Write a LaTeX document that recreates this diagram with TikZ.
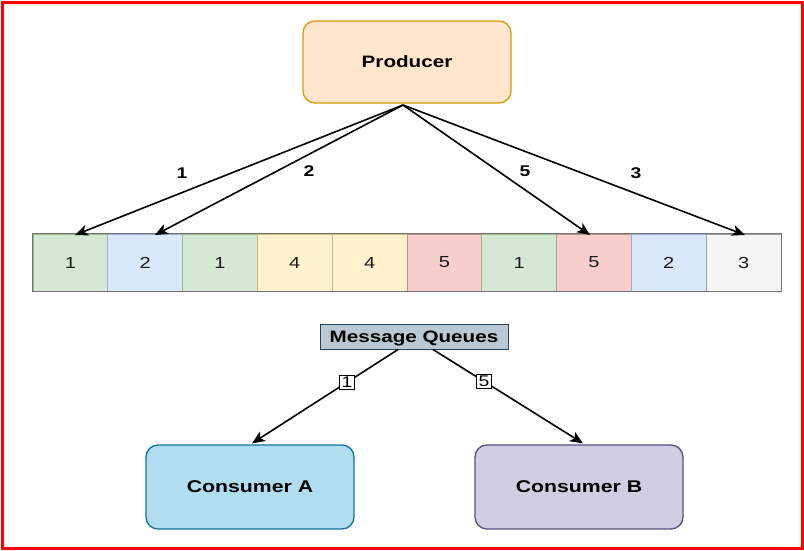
\documentclass[tikz,border=0pt]{standalone}
\usepackage{fontspec}
\setmainfont{Liberation Sans}
\usetikzlibrary{arrows.meta,calc}
\definecolor{prodfill}{HTML}{FFE6CC}
\definecolor{prodline}{HTML}{D79B00}
\definecolor{gfill}{HTML}{D5E8D4}\definecolor{gline}{HTML}{9DB58F}
\definecolor{bfill}{HTML}{DAE8FC}\definecolor{bline}{HTML}{9AAFCB}
\definecolor{yfill}{HTML}{FFF2CC}\definecolor{yline}{HTML}{C9B78A}
\definecolor{rfill}{HTML}{F8CECC}\definecolor{rline}{HTML}{B89492}
\definecolor{sfill}{HTML}{F5F5F5}\definecolor{sline}{HTML}{A0A0A0}
\definecolor{mqfill}{HTML}{BAC8D3}\definecolor{mqline}{HTML}{23445D}
\definecolor{cafill}{HTML}{B1DDF0}\definecolor{caline}{HTML}{10739E}
\definecolor{cbfill}{HTML}{D0CEE2}\definecolor{cbline}{HTML}{56517E}
\newcommand{\stretchtxt}[1]{\scalebox{1.25}[1]{#1}}
\begin{document}
\begin{tikzpicture}[x=1pt,y=-1pt,
  roundbox/.style={rounded corners=12pt, line width=1.3pt, inner sep=0pt},
  cell/.style={line width=0.8pt, minimum width=74.8pt, minimum height=57pt, inner sep=0pt, text=black!90},
  arr/.style={line width=1.6pt, -{Stealth[length=13pt,width=11pt,inset=3.5pt]}},
  elabel/.style={font=\bfseries\fontsize{15.5}{18}\selectfont},
  boxlabel/.style={draw, fill=white, line width=1pt, inner xsep=1.8pt, inner ysep=2pt, text depth=0pt, font=\fontsize{15.5}{18}\selectfont}
]
\useasboundingbox (0,0) rectangle (804,550);
\draw[red, line width=3pt] (2,2) rectangle (802,548);

\node[roundbox, fill=prodfill, draw=prodline, minimum width=208pt, minimum height=82pt] (prod) at (407,62)
  {\bfseries\fontsize{16.5}{19}\selectfont\stretchtxt{Producer}};

\foreach \i/\v/\f/\l in {1/1/gfill/gline,2/2/bfill/bline,3/1/gfill/gline,4/4/yfill/yline,5/4/yfill/yline,
                         6/5/rfill/rline,7/1/gfill/gline,8/5/rfill/rline,9/2/bfill/bline,10/3/sfill/sline}{
  \node[cell, fill=\f, draw=\l] (c\i) at ({33+74.8*(\i-0.5)},262.5) {\fontsize{16}{19}\selectfont\stretchtxt{\v}};
}
\draw[line width=1pt, draw=black!55] (c1.north west) rectangle (c10.south east);

\coordinate (src) at (403,105);
\coordinate (t1) at (75,235);
\coordinate (t2) at (155,235);
\coordinate (t5) at (590,235);
\coordinate (t3) at (745,235);
\draw[arr] (src) -- (t1);
\draw[arr] (src) -- (t2);
\draw[arr] (src) -- (t5);
\draw[arr] (src) -- (t3);
\node[elabel] (l1) at (182,173) {\stretchtxt{1}};
\node[elabel] (l2) at (309,171) {\stretchtxt{2}};
\node[elabel] (l5) at (525,171) {\stretchtxt{5}};
\node[elabel] (l3) at (636,173) {\stretchtxt{3}};

\node[fill=mqfill, draw=mqline, line width=1pt, minimum width=188pt, minimum height=25pt, inner sep=0pt, text depth=0pt] (mq) at (414,336.5)
  {\bfseries\fontsize{16.5}{19}\selectfont\stretchtxt{Message Queues}};

\node[roundbox, fill=cafill, draw=caline, minimum width=208pt, minimum height=84pt] (ca) at (250,487)
  {\bfseries\fontsize{17}{20}\selectfont\stretchtxt{Consumer A}};
\node[roundbox, fill=cbfill, draw=cbline, minimum width=208pt, minimum height=84pt] (cb) at (579,487)
  {\bfseries\fontsize{17}{20}\selectfont\stretchtxt{Consumer B}};

\draw[arr] ($(mq.south)+(-16,0)$) -- node[boxlabel, pos=0.35] (m1) {\stretchtxt{1}} ($(ca.north)+(2,-1)$);
\draw[arr] ($(mq.south)+(19,0)$) -- node[boxlabel, pos=0.34] (m5) {\stretchtxt{5}} ($(cb.north)+(4,-1)$);
\end{tikzpicture}
\end{document}
